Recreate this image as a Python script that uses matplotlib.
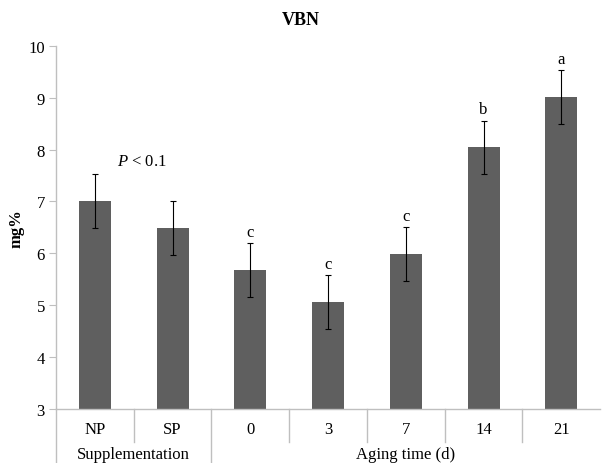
import numpy as np
import matplotlib.pyplot as plt

plt.rcParams['font.family'] = ['Liberation Serif', 'DejaVu Serif']
plt.rcParams['mathtext.fontset'] = 'custom'
plt.rcParams['mathtext.it'] = 'Liberation Serif:italic'
plt.rcParams['mathtext.rm'] = 'Liberation Serif'

categories = ["NP", "SP", "0", "3", "7", "14", "21"]
values = [7.0, 6.48, 5.67, 5.05, 5.99, 8.04, 9.01]
errors = [0.52, 0.52, 0.52, 0.52, 0.52, 0.52, 0.52]
letters = ["", "", "c", "c", "c", "b", "a"]
groups = [("Supplementation", 0, 1), ("Aging time (d)", 2, 6)]

fig = plt.figure(figsize=(6.02, 4.64), dpi=100)
ax = fig.add_axes([0.093, 0.117, 0.904, 0.782])

x = np.arange(len(categories))
ax.bar(x, values, width=0.41, color="#5f5f5f", zorder=2)
ax.errorbar(x, values, yerr=errors, fmt="none", ecolor="black",
            elinewidth=0.8, capsize=2.5, capthick=0.8, zorder=3)

for xi, v, e, lab in zip(x, values, errors, letters):
    if lab:
        ax.text(xi, v + e + 0.06, lab, ha="center", va="bottom", fontsize=12)

ax.text(0.6, 7.77, r"$P$ < 0.1", ha="center", va="center", fontsize=12)

ax.set_xlim(-0.5, len(categories) - 0.5)
ax.set_ylim(3, 10)
ax.set_yticks(range(3, 11))
ax.tick_params(axis="y", length=5, color="#bfbfbf", labelsize=12, pad=3)
ax.set_xticks(x)
ax.set_xticklabels(categories, fontsize=12)
ax.tick_params(axis="x", length=0, pad=9)

for s in ["top", "right"]:
    ax.spines[s].set_visible(False)
for s in ["left", "bottom"]:
    ax.spines[s].set_color("#bfbfbf")
    ax.spines[s].set_linewidth(1.0)

tr = ax.get_xaxis_transform()
# separators between categories
for b in np.arange(0.5, len(categories) - 1, 1.0):
    bottom = -0.15 if b == 1.5 else -0.093
    ax.plot([b, b], [0, bottom], transform=tr, color="#bfbfbf", lw=1.0, clip_on=False)
ax.plot([-0.5, -0.5], [0, -0.15], transform=tr, color="#bfbfbf", lw=1.0, clip_on=False)

for name, g0, g1 in groups:
    ax.text((g0 + g1) / 2, -0.126, name, transform=tr, ha="center", va="center", fontsize=12)

ax.set_ylabel("mg%", fontsize=12, fontweight="bold")
ax.yaxis.set_label_coords(-0.058, 0.5)
fig.text(0.5, 0.955, "VBN", ha="center", va="center", fontsize=13, fontweight="bold")

fig.savefig("out.png", facecolor="white")
